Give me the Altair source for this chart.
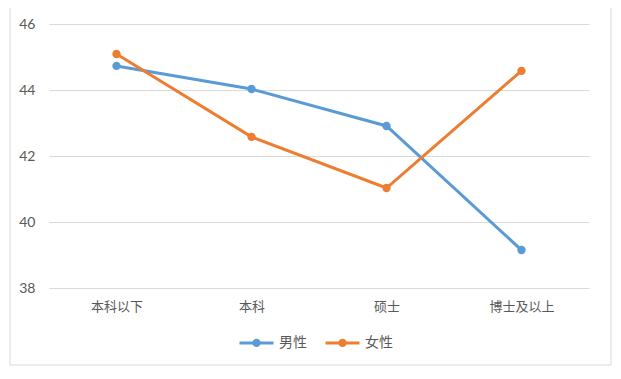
import altair as alt
import pandas as pd

categories = ["本科以下", "本科", "硕士", "博士及以上"]
male = [44.73, 44.03, 42.91, 39.15]
female = [45.09, 42.58, 41.03, 44.58]
series = ["男性", "女性"]
colors = ["#5B9BD5", "#ED7D31"]

rows = []
for c, v in zip(categories, male):
    rows.append({"学历": c, "值": v, "性别": "男性"})
for c, v in zip(categories, female):
    rows.append({"学历": c, "值": v, "性别": "女性"})
df = pd.DataFrame(rows)

cjk = "Noto Sans CJK SC"

x = alt.X("学历:N", sort=categories, title=None,
          scale=alt.Scale(type="point", padding=0.5),
          axis=alt.Axis(labelAngle=0, labelFont=cjk, labelFontSize=13,
                        labelColor="#595959", labelPadding=12, ticks=False,
                        domain=False, grid=False))
y = alt.Y("值:Q", title=None,
          scale=alt.Scale(domain=[38, 46], nice=False, zero=False),
          axis=alt.Axis(values=[38, 40, 42, 44, 46], labelFont="Lato",
                        labelFontSize=14, labelColor="#595959", labelPadding=14,
                        ticks=False, domain=False, gridColor="#d9d9d9",
                        gridWidth=1))
color = alt.Color("性别:N", sort=series,
                  scale=alt.Scale(domain=series, range=colors),
                  legend=alt.Legend(
                      title=None, orient="none", direction="horizontal",
                      legendX=189, legendY=300,
                      symbolType="M-1,0H1M-0.16,0A0.16,0.16 0 1,0 0.16,0A0.16,0.16 0 1,0 -0.16,0",
                      symbolSize=1156, symbolStrokeWidth=3,
                      labelFont=cjk, labelFontSize=14, labelColor="#595959",
                      columnPadding=12, labelOffset=4))

base = alt.Chart(df)
lines = base.mark_line(strokeWidth=3).encode(x=x, y=y, color=color)
points = base.mark_point(filled=True, size=70, opacity=1).encode(
    x=x, y=y, color=alt.Color("性别:N", sort=series,
                              scale=alt.Scale(domain=series, range=colors),
                              legend=None))

border = alt.Chart(pd.DataFrame({"a": [0]})).mark_rect(
    fill=None, stroke="#d9d9d9", strokeWidth=1, clip=False).encode(
    x=alt.value(-39), x2=alt.value(562), y=alt.value(-17), y2=alt.value(341))

chart = alt.layer(border, lines, points).properties(
    width=540, height=264,
    autosize=alt.AutoSizeParams(type="none"),
    padding={"left": 41, "top": 16, "right": 24, "bottom": 83},
    background="white",
).configure_view(stroke=None)

chart.save("out.html", embed_options={"renderer": "svg", "actions": False})
